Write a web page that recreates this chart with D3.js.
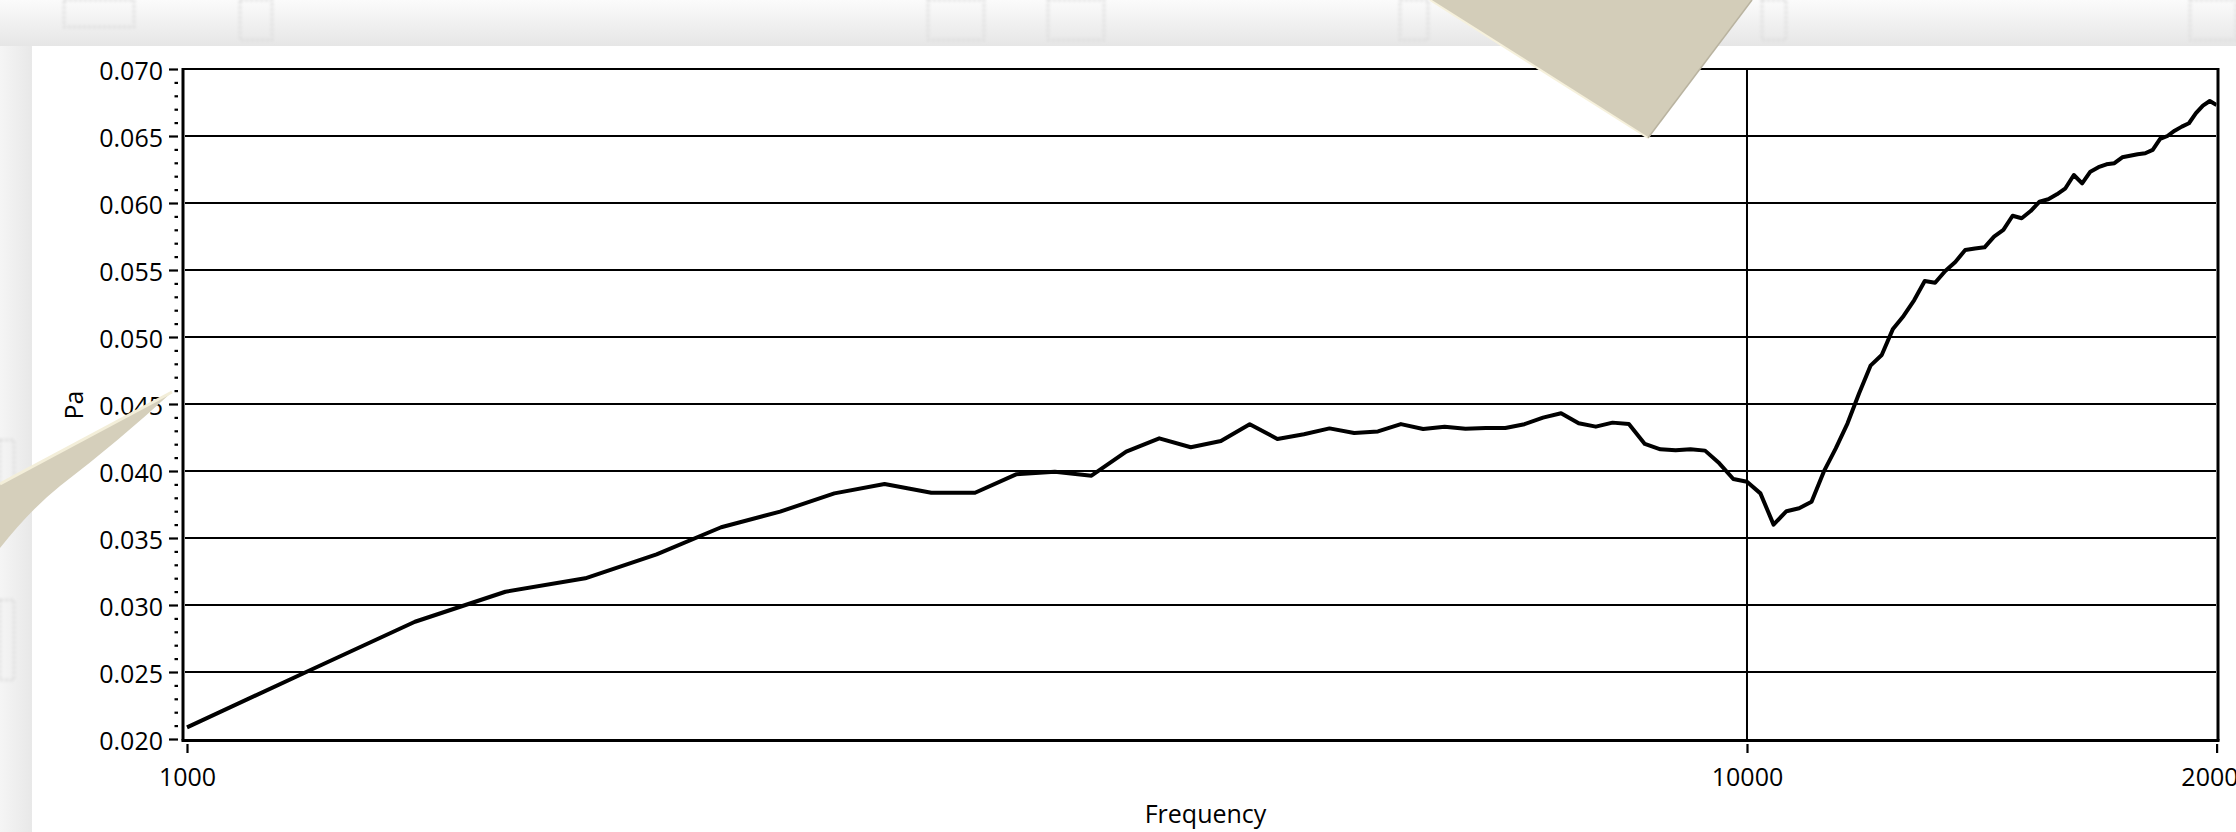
<!DOCTYPE html>
<html><head><meta charset="utf-8">
<script src="https://cdn.jsdelivr.net/npm/d3@7"></script>
<style>html,body{margin:0;padding:0;background:#fff;overflow:hidden}</style>
</head><body><svg id="c" width="2236" height="832"></svg>
<script>
// ---- data ----
const frequencies = [1000,1200,1400,1600,1800,2000,2200,2400,2600,2800,3000,3200,3400,3600,3800,4000,
  4200,4400,4600,4800,5000,5200,5400,5600,5800,6000,6200,6400,6600,6800,7000,7200,
  7400,7600,7800,8000,8200,8400,8600,8800,9000,9200,9400,9600,9800,10000,10200,10400,
  10600,10800,11000,11200,11400,11600,11800,12000,12200,12400,12600,12800,13000,13200,13400,13600,
  13800,14000,14200,14400,14600,14800,15000,15200,15400,15600,15800,16000,16200,16400,16600,16800,
  17000,17200,17400,17600,17800,18000,18200,18400,18600,18800,19000,19200,19400,19600,19800,20000];
const pressure = [0.02087,0.02515,0.02875,0.03099,0.03199,0.03378,0.03580,0.03697,0.03833,0.03903,0.03838,0.03838,0.03975,0.03995,0.03965,0.04144,
  0.04244,0.04177,0.04224,0.04349,0.04239,0.04274,0.04318,0.04284,0.04295,0.04350,0.04313,0.04331,0.04316,0.04321,0.04321,0.04349,
  0.04398,0.04431,0.04356,0.04331,0.04361,0.04351,0.04202,0.04162,0.04154,0.04162,0.04152,0.04057,0.03940,0.03920,0.03833,0.03600,
  0.03700,0.03722,0.03771,0.03995,0.04169,0.04356,0.04580,0.04786,0.04866,0.05057,0.05157,0.05276,0.05418,0.05405,0.05493,0.05560,
  0.05649,0.05661,0.05669,0.05749,0.05799,0.05905,0.05886,0.05940,0.06010,0.06028,0.06065,0.06110,0.06209,0.06147,0.06234,0.06267,
  0.06289,0.06297,0.06341,0.06353,0.06364,0.06371,0.06396,0.06478,0.06500,0.06540,0.06570,0.06595,0.06670,0.06726,0.06761,0.06731];
const yTickValues = [0.020,0.025,0.030,0.035,0.040,0.045,0.050,0.055,0.060,0.065,0.070];
const xTickValues = [1000,10000,20000];
const xTickLabels = ["1000","10000","20000"];
const xGridValues = [10000];
const xTitle = "Frequency";
const yTitle = "Pa";

// ---- layout ----
const W = 2236, H = 832;
const FONT = "'Open Sans','Noto Sans',sans-serif";
const svg = d3.select("#c");
const x = d3.scaleLog().domain([1000, 20000]).range([187, 2216.6]);
const y = d3.scaleLinear().domain([0.020, 0.070]).range([739, 69]);
const L = 183, R = 2218, T = 69, B = 740.5;

// background (window chrome)
const defs = svg.append("defs");
const gTop = defs.append("linearGradient").attr("id","gt").attr("x1",0).attr("y1",0).attr("x2",0).attr("y2",1);
gTop.append("stop").attr("offset","0%").attr("stop-color","#fbfbfb");
gTop.append("stop").attr("offset","100%").attr("stop-color","#e6e6e6");
const gLeft = defs.append("linearGradient").attr("id","gl").attr("x1",0).attr("y1",0).attr("x2",1).attr("y2",0);
gLeft.append("stop").attr("offset","0%").attr("stop-color","#f5f5f5");
gLeft.append("stop").attr("offset","100%").attr("stop-color","#e8e8e8");
defs.append("filter").attr("id","blur").append("feGaussianBlur").attr("stdDeviation",1.6);
svg.append("rect").attr("width",W).attr("height",H).attr("fill","#f2f2f2");
svg.append("rect").attr("width",W).attr("height",46).attr("fill","url(#gt)");
svg.append("rect").attr("y",46).attr("width",32).attr("height",H-46).attr("fill","url(#gl)");
const ghost = [[64,0,70,27],[240,0,32,40],[928,0,56,40],[1048,0,56,40],[1400,0,28,40],[1762,0,24,40],[2190,0,46,40],[0,440,14,80],[0,600,14,80]];
svg.append("g").attr("filter","url(#blur)").selectAll("rect").data(ghost).join("rect")
  .attr("x",d=>d[0]).attr("y",d=>d[1]).attr("width",d=>d[2]).attr("height",d=>d[3])
  .attr("fill","none").attr("stroke","#dcdcdc").attr("stroke-width",2.5).attr("stroke-dasharray","3,2");
svg.append("rect").attr("x",32).attr("y",46).attr("width",W-32).attr("height",H-46).attr("fill","#fff");

// gridlines
const grid = svg.append("g").attr("stroke","#000").attr("stroke-width",2);
grid.selectAll("line.h").data(yTickValues.slice(1,-1)).join("line").attr("class","h")
  .attr("x1",L+2).attr("x2",R-2).attr("y1",d=>y(d)).attr("y2",d=>y(d));
grid.selectAll("line.v").data(xGridValues).join("line").attr("class","v")
  .attr("x1",d=>x(d)).attr("x2",d=>x(d)).attr("y1",T+1).attr("y2",B-1);

// frame
svg.append("line").attr("x1",L).attr("x2",R).attr("y1",T).attr("y2",T).attr("stroke","#000").attr("stroke-width",2);
svg.append("line").attr("x1",L-1.5).attr("x2",R+1.5).attr("y1",B).attr("y2",B).attr("stroke","#000").attr("stroke-width",3);
svg.append("line").attr("x1",L).attr("x2",L).attr("y1",T-1).attr("y2",B).attr("stroke","#000").attr("stroke-width",3);
svg.append("line").attr("x1",R).attr("x2",R).attr("y1",T-1).attr("y2",B).attr("stroke","#000").attr("stroke-width",3);

// y axis
const yAxis = d3.axisLeft(y).tickValues(yTickValues).tickSize(9).tickPadding(6).tickFormat(d3.format(".3f"));
const gy = svg.append("g").attr("transform","translate(178,0)").call(yAxis);
gy.select(".domain").remove();
gy.selectAll(".tick line").attr("stroke","#000").attr("stroke-width",2.2);
gy.selectAll(".tick text").attr("font-family",FONT).attr("font-size",25).attr("fill","#000").attr("dy","0.4em");
const minor = y.ticks(50).filter(v => !yTickValues.some(m => Math.abs(m - v) < 1e-9));
const yMinor = d3.axisLeft(y).tickValues(minor).tickSize(3.5).tickFormat("");
const gym = svg.append("g").attr("transform","translate(178,0)").call(yMinor);
gym.select(".domain").remove();
gym.selectAll(".tick line").attr("stroke","#000").attr("stroke-width",2.2);

// x axis
const xAxis = d3.axisBottom(x).tickValues(xTickValues).tickSize(9).tickPadding(15)
  .tickFormat((d,i) => xTickLabels[i]);
const gx = svg.append("g").attr("transform","translate(0,744)").call(xAxis);
gx.select(".domain").remove();
gx.selectAll(".tick line").attr("stroke","#000").attr("stroke-width",2.2);
gx.selectAll(".tick text").attr("font-family",FONT).attr("font-size",25).attr("fill","#000");

// titles
svg.append("text").attr("x",(L+R)/2+5).attr("y",823).attr("text-anchor","middle")
  .attr("font-family",FONT).attr("font-size",25).attr("fill","#000").text(xTitle);
svg.append("text").attr("transform","translate(83,405) rotate(-90)").attr("text-anchor","middle")
  .attr("font-family",FONT).attr("font-size",25).attr("fill","#000").text(yTitle);

// curve
defs.append("clipPath").attr("id","plot").append("rect").attr("x",L+1.5).attr("y",T+1).attr("width",R-L-3).attr("height",B-T-2);
const pts = frequencies.map((f,i)=>({f, v: pressure[i]}));
svg.append("path").datum(pts).attr("clip-path","url(#plot)")
  .attr("fill","none").attr("stroke","#000").attr("stroke-width",4).attr("stroke-linejoin","round")
  .attr("d", d3.line().x(d=>x(d.f)).y(d=>y(d.v)));

// decorative paper shapes overlapping the chart
svg.append("path").attr("d","M1430,0 L1648,138 L1752,0 Z").attr("fill","#d3cdb9");
svg.append("path").attr("d","M1430,0 L1648,138").attr("stroke","#f6f1dc").attr("stroke-width",2).attr("fill","none");
svg.append("path").attr("d","M1648,138 L1752,0").attr("stroke","#b9b3a0").attr("stroke-width",1.5).attr("fill","none");
svg.append("path").attr("d","M172,392 L0,484 L0,548 Q30,510 60,486 Q120,440 172,392 Z").attr("fill","#d5cfbb");
svg.append("path").attr("d","M172,392 L0,484").attr("stroke","#f3eed9").attr("stroke-width",3).attr("fill","none");
</script></body></html>
